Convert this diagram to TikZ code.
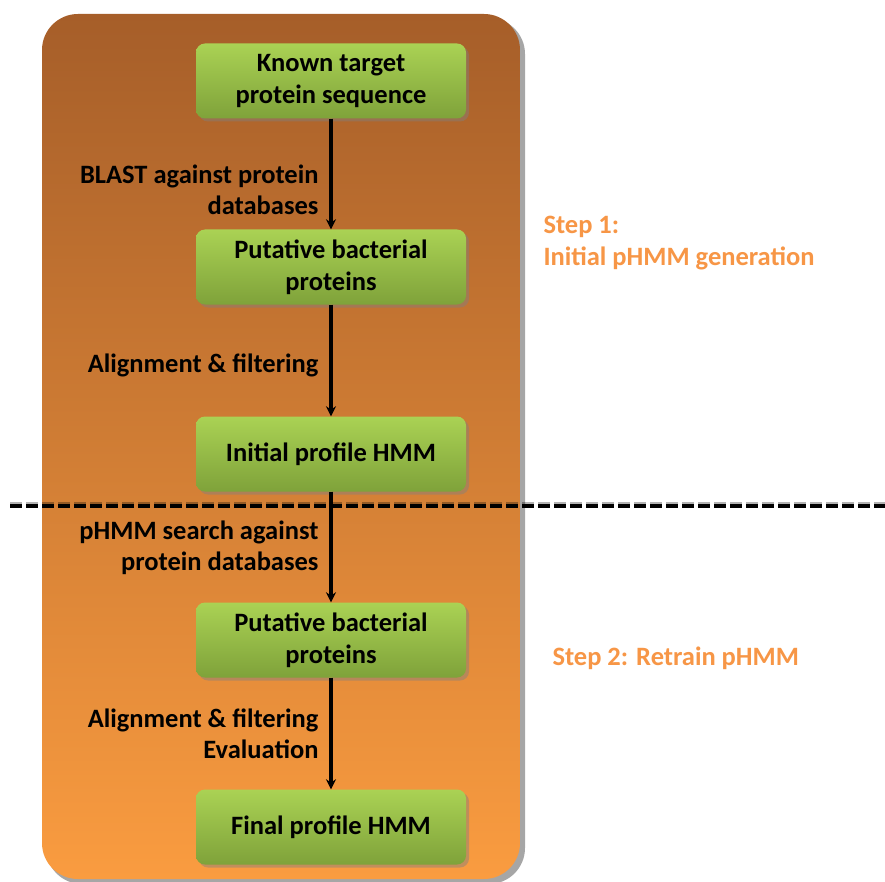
\documentclass[tikz,border=0pt]{standalone}
\usepackage{fontspec}
\setmainfont{Carlito}
\usetikzlibrary{shadows,arrows.meta}
\definecolor{stepor}{HTML}{F79646}
\definecolor{ortop}{HTML}{A65E29}
\definecolor{ormid}{HTML}{EE8B3A}
\definecolor{orbot}{HTML}{FA9C40}
\definecolor{grtop}{HTML}{AAD254}
\definecolor{grbot}{HTML}{7FA23A}
\tikzset{
  procbox/.style={rounded corners=9pt, minimum width=270pt, minimum height=75pt,
    top color=grtop, bottom color=grbot, draw=none, align=center,
    font=\fontsize{26.5}{32}\selectfont\bfseries,
    drop shadow={shadow xshift=3pt, shadow yshift=-3pt, opacity=0.45}},
  lbl/.style={anchor=east, align=right, font=\fontsize{26.5}{31}\selectfont\bfseries},
  steplbl/.style={anchor=west, align=left, text=stepor, font=\fontsize{26.5}{32}\selectfont\bfseries},
  flow/.style={-{Stealth[length=10pt,width=10pt]}, line width=3.2pt}
}
\begin{document}
\begin{tikzpicture}[x=1pt,y=-1pt]
\useasboundingbox (0,0) rectangle (885,882);
\fill[white] (0,0) rectangle (885,882);
% shadow of panel
\fill[black, opacity=0.35, rounded corners=36pt] (46,18) rectangle (525,884);
\shade[rounded corners=36pt, top color=ortop, middle color=ormid, bottom color=orbot] (42,14) rectangle (520,879);
% boxes
\node[procbox] (b1) at (331,81) {Known target\\protein sequence};
\node[procbox] (b2) at (331,267) {Putative bacterial\\proteins};
\node[procbox] (b3) at (331,454) {Initial profile HMM};
\node[procbox] (b4) at (331,640) {Putative bacterial\\proteins};
\node[procbox] (b5) at (331,827) {Final profile HMM};
% dashed separator
\coordinate (dl) at (10,506);
\coordinate (dr) at (885,506);
\draw[black, opacity=0.3, line width=4pt, dash pattern=on 12pt off 4pt] ([yshift=2pt]dl) -- ([yshift=2pt]dr);
\draw[black, line width=3.5pt, dash pattern=on 12pt off 4pt] (dl) -- (dr);
% arrows
\draw[flow] (b1.south) -- (b2.north);
\draw[flow] (b2.south) -- (b3.north);
\draw[flow] (b3.south) -- (b4.north);
\draw[flow] (b4.south) -- (b5.north);
% labels
\node[lbl] (l1) at (322,190) {BLAST against protein\\databases};
\node[lbl] (l2) at (322,365) {Alignment \& filtering};
\node[lbl] (l3) at (322,548) {pHMM search against\\protein databases};
\node[lbl] (l4) at (322,734) {Alignment \& filtering\\Evaluation};
\node[steplbl] (s1) at (540,243) {Step 1:\\Initial pHMM generation};
\node[steplbl] (s2) at (549,658) {Step 2: Retrain pHMM};
\end{tikzpicture}
\end{document}
